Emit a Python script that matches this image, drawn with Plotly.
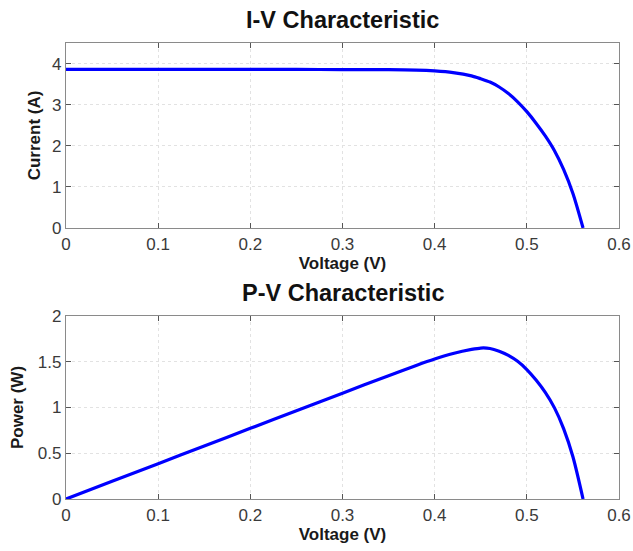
import plotly.graph_objects as go
from plotly.subplots import make_subplots

voltage = [0, 0.05, 0.10, 0.15, 0.20, 0.25, 0.30, 0.35, 0.38, 0.40, 0.42, 0.44, 0.45,
           0.46, 0.47, 0.48, 0.49, 0.50, 0.51, 0.52, 0.53, 0.54, 0.55, 0.561]
current = [3.86, 3.86, 3.86, 3.86, 3.86, 3.86, 3.85, 3.85, 3.84, 3.82, 3.78, 3.70, 3.63,
           3.55, 3.43, 3.27, 3.07, 2.83, 2.55, 2.24, 1.88, 1.42, 0.84, 0.0]
power = [0.0, 0.193, 0.386, 0.579, 0.772, 0.965, 1.157, 1.348, 1.46, 1.53, 1.59, 1.635, 1.65,
         1.645, 1.615, 1.57, 1.505, 1.415, 1.30, 1.165, 0.996, 0.767, 0.462, 0.0]

x_ticks = [0, 0.1, 0.2, 0.3, 0.4, 0.5, 0.6]
iv_ticks = [0, 1, 2, 3, 4]
pv_ticks = [0, 0.5, 1, 1.5, 2]

BLUE = "rgb(0,0,255)"
FONT = "Liberation Sans, Arial, sans-serif"

fig = make_subplots(rows=2, cols=1)
fig.add_trace(go.Scatter(x=voltage, y=current, mode="lines",
                         line=dict(color=BLUE, width=3.2, shape="spline", smoothing=0.8)), row=1, col=1)
fig.add_trace(go.Scatter(x=voltage, y=power, mode="lines",
                         line=dict(color=BLUE, width=3.2, shape="spline", smoothing=0.8)), row=2, col=1)

axis_common = dict(showline=True, linecolor="#8a8a8a", linewidth=1.2, mirror="allticks",
                   ticks="inside", ticklen=5, tickcolor="#555555", automargin=False,
                   showgrid=True, gridcolor="#e2e2e2", griddash="dot", gridwidth=1,
                   zeroline=False, tickfont=dict(family=FONT, size=17, color="#3a3a3a"))
title_font = dict(family=FONT, size=17, color="#1a1a1a")

fig.update_xaxes(**axis_common, range=[0, 0.6], tickvals=x_ticks,
                 ticktext=[f"{v:g}" for v in x_ticks],
                 title=dict(text="<b>Voltage (V)</b>", font=title_font, standoff=2))
fig.update_yaxes(**axis_common)
fig.update_yaxes(range=[0, 4.5], tickvals=iv_ticks,
                 title=dict(text="<b>Current (A)</b>", font=title_font, standoff=7),
                 row=1, col=1)
fig.update_yaxes(range=[0, 2], tickvals=pv_ticks, ticktext=[f"{v:g}" for v in pv_ticks],
                 title=dict(text="<b>Power (W)</b>", font=title_font, standoff=9),
                 row=2, col=1)

W, H = 633, 551
T, B = 43, 52
paper_h = H - T - B
bottom_of_plot = H - B  # 499
fig.update_layout(
    width=W, height=H,
    margin=dict(l=66, r=14, t=T, b=B),
    paper_bgcolor="white", plot_bgcolor="white",
    showlegend=False,
    hovermode=False,
    xaxis=dict(domain=[0, 1]), xaxis2=dict(domain=[0, 1]),
    yaxis=dict(domain=[(bottom_of_plot - 228) / paper_h, 1.0]),
    yaxis2=dict(domain=[0.0, (bottom_of_plot - 316) / paper_h]),
    annotations=[
        dict(text="<b>I-V Characteristic</b>", x=0.5, xref="paper", y=1 + (T - 20) / paper_h, yref="paper",
             showarrow=False, font=dict(family=FONT, size=23.5, color="#111"), yanchor="middle"),
        dict(text="<b>P-V Characteristic</b>", x=0.5, xref="paper", y=(bottom_of_plot - 293) / paper_h, yref="paper",
             showarrow=False, font=dict(family=FONT, size=23.5, color="#111"), yanchor="middle"),
    ],
)

fig.write_html("out.html", config={"displayModeBar": False, "staticPlot": True},
               post_script="document.body.style.margin='0';document.body.style.overflow='hidden';")
